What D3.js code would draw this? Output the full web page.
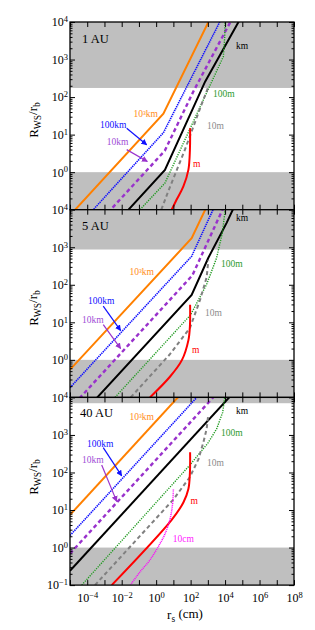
<!DOCTYPE html>
<html>
<head>
<meta charset="utf-8">
<script src="https://cdn.jsdelivr.net/npm/d3@7"></script>
<style>
body { margin: 0; background: #fff; }
text { font-family: "Liberation Serif", "Times New Roman", serif; }
</style>
</head>
<body>
<div id="chart"></div>
<script>
// curve vertices: [log10 r_s (cm), log10 R_WS/r_b]
var au1_1000km = [[-5,-1.15],[0.42,1.56],[3.14,4.1]];
var au1_100km = [[-5,-1.68],[0.42,1.05],[3.78,4.08]];
var au1_10km = [[-5,-2.18],[0.5,0.57],[2.16,2.15],[4.4,4.08]];
var au1_km = [[-5,-2.7],[0.51,0.06],[2.84,2.41],[4.9,4.1]];
var au1_100m = [[-0.94,-1],[0.51,-0.29],[3.9,3.08],[3.98,3.6],[4.0,4.1]];
var au1_10m = [[0.3,-1],[0.71,-0.5],[1.67,0.6],[2.55,1.7],[3.0,2.24]];
var au1_m = [[0.9,-1],[1.19,-0.73],[1.58,-0.38],[1.87,0.06],[1.96,0.6],[1.97,1.17]];

var au5_1000km = [[-5,-0.26],[2.06,3.24],[2.95,4.1]];
var au5_100km = [[-5,-0.74],[2.06,2.76],[3.4,4.1]];
var au5_10km = [[-5,-1.3],[2.1,2.25],[3.95,4.1]];
var au5_km = [[-5,-1.79],[2.06,1.73],[3.03,2.72],[4.09,3.65],[4.55,4.1]];
var au5_100m = [[-2.39,-1],[2.0,1.2],[2.93,2.01],[3.51,2.72],[3.85,3.4],[3.98,3.9],[4.0,4.1]];
var au5_10m = [[-1.48,-1],[0.8,0.15],[1.96,0.85],[2.55,1.6],[2.93,2.2],[3.03,2.65]];
var au5_m = [[-0.36,-1],[0.8,-0.45],[1.5,0.0],[1.87,0.52],[1.96,0.9],[1.97,1.47]];

var au40_1000km = [[-5,0.87],[1.4,4.07]];
var au40_100km = [[-5,0.32],[2.5,4.07]];
var au40_10km = [[-5,-0.16],[3.45,4.07]];
var au40_km = [[-5,-0.62],[4.3,4.03]];
var au40_100m = [[-4.32,-1],[1.96,2.2],[3.0,2.78],[3.51,3.16],[3.86,3.6],[3.98,4.0],[4.0,4.1]];
var au40_10m = [[-3.55,-1],[1.0,1.28],[1.96,1.88],[2.45,2.35],[2.74,2.8],[2.93,3.16],[3.02,3.52]];
var au40_m = [[-2.58,-1],[0.9,0.74],[1.58,1.2],[1.87,1.56],[1.96,2.0],[1.97,2.54]];
var au40_10cm = [[-1.5,-1],[-0.94,-0.65],[-0.36,-0.33],[0.22,0.1],[0.5,0.35],[0.8,0.75],[0.95,1.15],[1.0,1.55]];

var panelNames = ["1 AU", "5 AU", "40 AU"];
var upperBand = [175, 870, 7000];   // gray region above this R_WS/r_b
var lowerBand = [1, 1, 1];          // gray region below this
var yMajor = [0.1, 1, 10, 100, 1000, 10000];
var xMajorExp = [-5,-4,-3,-2,-1,0,1,2,3,4,5,6,7,8];
var xLabelExp = [-4,-2,0,2,4,6,8];

var panelCurves = [
    [["10³km", au1_1000km], ["100km", au1_100km], ["10km", au1_10km], ["km", au1_km],
     ["100m", au1_100m], ["10m", au1_10m], ["m", au1_m]],
    [["10³km", au5_1000km], ["100km", au5_100km], ["10km", au5_10km], ["km", au5_km],
     ["100m", au5_100m], ["10m", au5_10m], ["m", au5_m]],
    [["10³km", au40_1000km], ["100km", au40_100km], ["10km", au40_10km], ["km", au40_km],
     ["100m", au40_100m], ["10m", au40_10m], ["m", au40_m], ["10cm", au40_10cm]]
];

// styles
var styles = {
    "10³km": {c: "#ff8000", lc: "#ff8c1a", w: 2, dash: null, curve: d3.curveLinear},
    "100km": {c: "#1010ff", lc: "#1010ff", w: 1.6, dash: "1.4,0.8", curve: d3.curveLinear},
    "10km": {c: "#9932cc", lc: "#a04ed6", w: 2.4, dash: "4,3", curve: d3.curveLinear},
    "km": {c: "#000", lc: "#000", w: 2, dash: null, curve: d3.curveLinear},
    "100m": {c: "#1f9a1f", lc: "#2e9a2e", w: 1.4, dash: "1.2,1.2", curve: d3.curveLinear},
    "10m": {c: "#808080", lc: "#8c8c8c", w: 2, dash: "4,3", curve: d3.curveLinear},
    "m": {c: "#ff0000", lc: "#ff0000", w: 2, dash: null, curve: d3.curveCatmullRom.alpha(0.5)},
    "10cm": {c: "#ff00ff", lc: "#ff22ff", w: 1.5, dash: "1,0.9", curve: d3.curveCatmullRom.alpha(0.5)}
};

// label layout in data coords [name, log rs, log R, anchor]
var labelPos = [
    [["10³km",0.107,1.47,"end"],["100km",-3.26,1.17,"start"],["10km",-2.87,0.73,"start"],
     ["km",4.63,3.28,"start"],["100m",3.3,2.0,"start"],["10m",2.95,1.15,"start"],["m",2.14,0.14,"start"]],
    [["10³km",-0.125,2.27,"end"],["100km",-3.96,1.5,"start"],["10km",-4.3,0.995,"start"],
     ["km",4.63,3.71,"start"],["100m",3.76,2.48,"start"],["10m",2.84,1.18,"start"],["m",2.08,0.17,"start"]],
    [["10³km",-0.125,3.39,"end"],["100km",-4.01,2.69,"start"],["10km",-4.3,2.26,"start"],
     ["km",4.63,3.57,"start"],["100m",3.76,2.98,"start"],["10m",2.95,2.18,"start"],["m",2.0,1.17,"start"],
     ["10cm",0.96,0.15,"start"]]
];
var arrowPos = [
    [["100km",-1.71,1.17,-0.55,0.73],["10km",-1.71,0.6,-0.51,0.285]],
    [["100km",-3.07,1.43,-2.06,0.78],["10km",-3.07,0.94,-2.06,0.30]],
    [["100km",-3.07,2.66,-2.0,1.91],["10km",-3.16,2.2,-2.29,1.23]]
];
var titlePos = [[-4.3,3.44],[-4.3,3.47],[-4.42,3.47]];
var ylabelY = [120, 308, 477];

var W = 315, H = 630;
var left = 70, right = 294;
var panelTop = [22, 209.7, 397.4], panelH = 187.7;

var svg = d3.select("#chart").append("svg")
    .attr("width", W).attr("height", H);

var defs = svg.append("defs");
["100km", "10km"].forEach(function(k, i) {
    defs.append("marker").attr("id", "arr" + i)
        .attr("viewBox", "0 0 10 10").attr("refX", 9).attr("refY", 5)
        .attr("markerWidth", 6).attr("markerHeight", 6).attr("orient", "auto")
        .attr("markerUnits", "userSpaceOnUse")
        .append("path").attr("d", "M0,0L10,5L0,10z").attr("fill", styles[k].c);
});

var x = d3.scaleLog().domain([1e-5, 1e8]).range([left, right]);

function supLabels(g) {
    g.selectAll(".tick text").each(function(d) {
        var t = d3.select(this);
        if (t.text() === "") return;
        var e = Math.round(Math.log10(d));
        t.text("10");
        t.append("tspan").attr("dy", "-0.48em").attr("font-size", "8.5px")
            .text(e < 0 ? "\u2212" + (-e) : e);
    });
}

function p(v) { return Math.pow(10, v); }

function drawPanel(i) {
    var yTop = panelTop[i], yBot = yTop + panelH;
    var y = d3.scaleLog().domain([0.1, 1e4]).range([yBot, yTop]);
    var g = svg.append("g");

    defs.append("clipPath").attr("id", "clip" + i)
        .append("rect").attr("x", left).attr("y", yTop)
        .attr("width", right - left).attr("height", panelH);

    // gray regions
    g.append("rect").attr("x", left).attr("width", right - left)
        .attr("y", y(1e4)).attr("height", y(upperBand[i]) - y(1e4))
        .attr("fill", "#bfbfbf");
    g.append("rect").attr("x", left).attr("width", right - left)
        .attr("y", y(lowerBand[i])).attr("height", y(0.1) - y(lowerBand[i]))
        .attr("fill", "#bfbfbf");

    // curves
    var lines = g.append("g").attr("clip-path", "url(#clip" + i + ")");
    panelCurves[i].forEach(function(c) {
        var st = styles[c[0]];
        var line = d3.line()
            .x(function(d) { return x(p(d[0])); })
            .y(function(d) { return y(p(d[1])); })
            .curve(st.curve);
        lines.append("path").datum(c[1])
            .attr("d", line)
            .attr("fill", "none")
            .attr("stroke", st.c)
            .attr("stroke-width", st.w)
            .attr("stroke-dasharray", st.dash);
    });

    // axes
    var minors = [];
    for (var k = -1; k < 4; k++)
        for (var m = 2; m < 10; m++) minors.push(m * Math.pow(10, k));

    var ly = g.append("g").attr("transform", "translate(" + left + ",0)")
        .call(d3.axisLeft(y).tickValues(yMajor).tickSize(-5).tickPadding(2)
            .tickFormat(function(d) { return (i < 2 && d < 0.5) ? "" : "x"; }));
    ly.attr("font-size", 12);
    supLabels(ly);
    g.append("g").attr("transform", "translate(" + left + ",0)")
        .call(d3.axisLeft(y).tickValues(minors).tickSize(-2.5).tickFormat(""));
    g.append("g").attr("transform", "translate(" + right + ",0)")
        .call(d3.axisRight(y).tickValues(yMajor).tickSize(-5).tickFormat(""));
    g.append("g").attr("transform", "translate(" + right + ",0)")
        .call(d3.axisRight(y).tickValues(minors).tickSize(-2.5).tickFormat(""));

    var xt = xMajorExp.map(p);
    g.append("g").attr("transform", "translate(0," + yTop + ")")
        .call(d3.axisTop(x).tickValues(xt).tickSize(-5).tickFormat(""));
    var bx = g.append("g").attr("transform", "translate(0," + yBot + ")")
        .call(d3.axisBottom(x).tickValues(xt).tickSize(-5).tickPadding(8)
            .tickFormat(function(d) {
                var e = Math.round(Math.log10(d));
                return (i === 2 && xLabelExp.indexOf(e) >= 0) ? "x" : "";
            }));
    bx.attr("font-size", 12);
    supLabels(bx);

    g.selectAll(".domain").remove();
    g.selectAll(".tick line").attr("stroke", "#000").attr("stroke-width", 1);
    g.selectAll(".tick text").attr("fill", "#000")
        .style("font-family", "'Liberation Serif', serif");

    g.append("rect").attr("x", left).attr("y", yTop)
        .attr("width", right - left).attr("height", panelH)
        .attr("fill", "none").attr("stroke", "#000").attr("stroke-width", 1.3);

    // panel title
    g.append("text").attr("x", x(p(titlePos[i][0]))).attr("y", y(p(titlePos[i][1])))
        .attr("font-size", 12.5).text(panelNames[i]);

    // curve labels
    labelPos[i].forEach(function(l) {
        g.append("text").attr("x", x(p(l[1]))).attr("y", y(p(l[2])))
            .attr("text-anchor", l[3]).attr("font-size", 9.5)
            .attr("fill", styles[l[0]].lc).text(l[0]);
    });

    // arrows
    arrowPos[i].forEach(function(a, j) {
        g.append("line")
            .attr("x1", x(p(a[1]))).attr("y1", y(p(a[2])))
            .attr("x2", x(p(a[3]))).attr("y2", y(p(a[4])))
            .attr("stroke", styles[a[0]].c).attr("stroke-width", 1.2)
            .attr("marker-end", "url(#arr" + j + ")");
    });

    // y axis title
    var yt = svg.append("text")
        .attr("transform", "translate(38," + ylabelY[i] + ") rotate(-90)")
        .attr("text-anchor", "middle").attr("font-size", 13);
    yt.append("tspan").text("R");
    yt.append("tspan").attr("dy", "0.3em").attr("font-size", 9.5).text("WS");
    yt.append("tspan").attr("dy", "-0.3em").text("/r");
    yt.append("tspan").attr("dy", "0.3em").attr("font-size", 9.5).text("b");
}

for (var n = 0; n < 3; n++) drawPanel(n);

var xtTitle = svg.append("text").attr("x", 185).attr("y", 619)
    .attr("text-anchor", "middle").attr("font-size", 13);
xtTitle.append("tspan").text("r");
xtTitle.append("tspan").attr("dy", "0.3em").attr("font-size", 9.5).text("s");
xtTitle.append("tspan").attr("dy", "-0.3em").text(" (cm)");
</script>
</body>
</html>
